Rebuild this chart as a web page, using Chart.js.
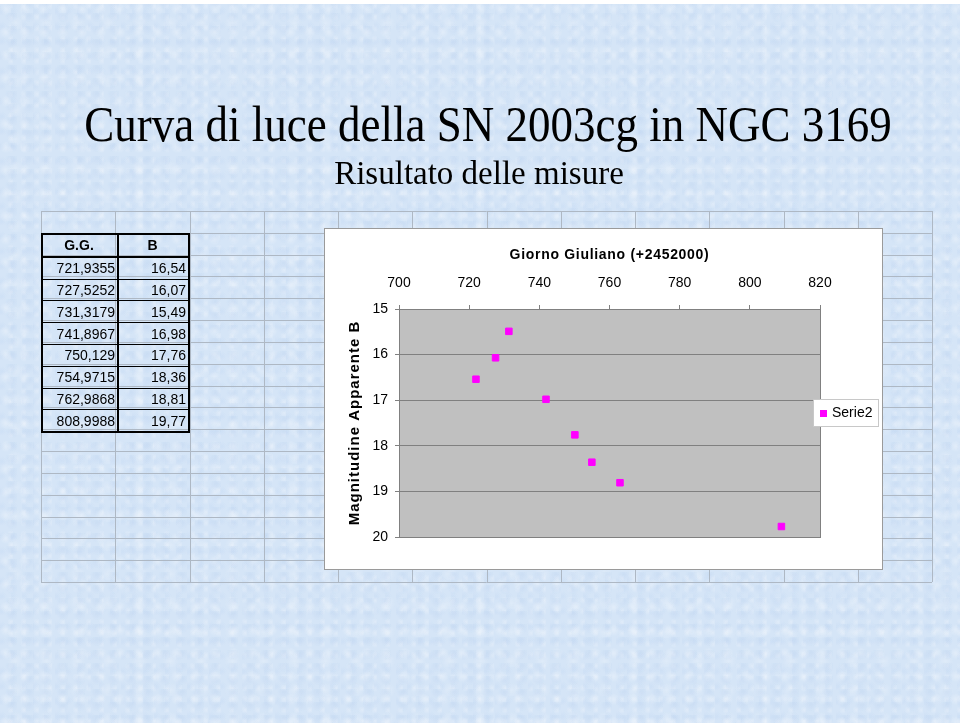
<!DOCTYPE html>
<html>
<head>
<meta charset="utf-8">
<script src="https://cdn.jsdelivr.net/npm/chart.js@4.4.1/dist/chart.umd.min.js"></script>
<style>
  html, body { margin: 0; padding: 0; }
  body {
    width: 960px; height: 723px; position: relative; overflow: hidden;
    background-color: #d5e5f7;
    background-image:
      radial-gradient(circle at 30% 40%, rgba(255,255,255,0.30) 0, rgba(255,255,255,0) 6px),
      radial-gradient(circle at 70% 20%, rgba(185,208,238,0.35) 0, rgba(185,208,238,0) 7px),
      radial-gradient(circle at 50% 80%, rgba(255,255,255,0.22) 0, rgba(255,255,255,0) 8px),
      radial-gradient(circle at 15% 75%, rgba(195,216,243,0.35) 0, rgba(195,216,243,0) 5px),
      radial-gradient(circle at 85% 55%, rgba(255,255,255,0.25) 0, rgba(255,255,255,0) 4px);
    background-size: 19px 23px, 17px 13px, 31px 29px, 11px 15px, 13px 11px;
  }
  #topstrip { position: absolute; left: 0; top: 0; width: 960px; height: 4px; background: #fff; }
  .title {
    position: absolute; white-space: nowrap; color: #000;
    font-family: "Times New Roman", "Liberation Serif", serif;
    transform: translateX(-50%);
  }
  #t1 { left: 488px; top: 104px; font-size: 45px; line-height: 45px; transform: translateX(-50%) scaleY(1.12); transform-origin: 50% 38px; }
  #t2 { left: 479px; top: 157px; font-size: 33px; line-height: 33px; }
  #sheet { position: absolute; left: 0; top: 0; }
  #data {
    position: absolute; left: 41px; top: 233px; width: 149px;
    border-collapse: collapse; border: 2px solid #000;
    font-family: Arial, "Liberation Sans", sans-serif; font-size: 14px;
  }
  #data td, #data th { border: 1px solid #000; height: 20.8px; padding: 0 2px 0 0; line-height: 14px; }
  #data th { text-align: center; font-weight: bold; border-bottom: 2px solid #000; }
  #data td { text-align: right; }
  #data td:first-child, #data th:first-child { border-right: 2px solid #000; width: 72px; }
  #box {
    position: absolute; left: 324px; top: 228px; width: 557px; height: 340px;
    background: #fff; border: 1px solid #9a9a9a;
  }
  #chart { display: block; }
</style>
</head>
<body>
<div id="topstrip"></div>
<canvas id="sheet" width="960" height="723"></canvas>
<div class="title" id="t1">Curva di luce della SN 2003cg in NGC 3169</div>
<div class="title" id="t2">Risultato delle misure</div>
<table id="data"></table>
<div id="box"><canvas id="chart" width="557" height="340"></canvas></div>
<script>
// misure: giorno giuliano (+2452000) e magnitudine B
var giorni = [721.9355, 727.5252, 731.3179, 741.8967, 750.129, 754.9715, 762.9868, 808.9988];
var magB = [16.54, 16.07, 15.49, 16.98, 17.76, 18.36, 18.81, 19.77];
var headers = ['G.G.', 'B'];
var serieName = 'Serie2';
var xTicks = [700, 720, 740, 760, 780, 800, 820];
var yTicks = [15, 16, 17, 18, 19, 20];

// griglia del foglio di calcolo
var sh = document.getElementById('sheet').getContext('2d');
sh.strokeStyle = '#aeb8c4';
sh.lineWidth = 1;
var gx0 = 41, gy0 = 211, gx1 = 932, gy1 = 582;
for (var c = 0; c <= 12; c++) {
    var x = Math.round(gx0 + c * (gx1 - gx0) / 12) + 0.5;
    sh.beginPath(); sh.moveTo(x, gy0); sh.lineTo(x, gy1); sh.stroke();
}
for (var r = 0; r <= 17; r++) {
    var y = Math.round(gy0 + r * (gy1 - gy0) / 17) + 0.5;
    sh.beginPath(); sh.moveTo(gx0, y); sh.lineTo(gx1, y); sh.stroke();
}

// tabella
function virgola(v) { return String(v).replace('.', ','); }
var tbl = document.getElementById('data');
var html = '<tr><th>' + headers[0] + '</th><th>' + headers[1] + '</th></tr>';
for (var i = 0; i < giorni.length; i++) {
    html += '<tr><td>' + virgola(giorni[i]) + '</td><td>' + virgola(magB[i]) + '</td></tr>';
}
tbl.innerHTML = html;

var points = giorni.map(function (g, i) { return {x: g, y: magB[i]}; });

function spaced(px) {
    return function (scale) {
        if (!scale._spaced) {
            var orig = scale.drawTitle;
            scale.drawTitle = function () {
                this.ctx.save();
                this.ctx.letterSpacing = px;
                orig.apply(this, arguments);
                this.ctx.restore();
            };
            scale._spaced = true;
        }
    };
}

var plotBg = {
    id: 'plotBg',
    beforeDraw: function (chart) {
        var a = chart.chartArea, ctx = chart.ctx;
        ctx.save();
        ctx.fillStyle = '#c0c0c0';
        ctx.fillRect(a.left, a.top, a.right - a.left, a.bottom - a.top);
        ctx.restore();
    },
    beforeDatasetsDraw: function (chart) {
        var a = chart.chartArea, ctx = chart.ctx;
        ctx.save();
        ctx.strokeStyle = '#808080';
        ctx.lineWidth = 1;
        ctx.strokeRect(Math.round(a.left) + 0.5, Math.round(a.top) + 0.5,
            Math.round(a.right - a.left), Math.round(a.bottom - a.top));
        ctx.restore();
    }
};

var legendBox = {
    id: 'legendBox',
    afterDraw: function (chart) {
        var ctx = chart.ctx, ds = chart.data.datasets[0];
        ctx.save();
        ctx.fillStyle = '#fff';
        ctx.fillRect(488, 170, 65, 27);
        ctx.strokeStyle = '#c8c8c8';
        ctx.strokeRect(488.5, 170.5, 65, 27);
        ctx.fillStyle = ds.backgroundColor;
        ctx.fillRect(495, 181, 7, 7);
        ctx.fillStyle = '#000';
        ctx.font = '14px Arial, "Liberation Sans", sans-serif';
        ctx.textBaseline = 'middle';
        ctx.fillText(ds.label, 507, 184.5);
        ctx.restore();
    }
};

var config = {
    type: 'scatter',
    data: {
        datasets: [{
            label: serieName,
            data: points,
            backgroundColor: '#ff00ff',
            borderColor: '#ff00ff',
            borderWidth: 1,
            pointStyle: 'rect',
            pointRadius: 4.6,
            pointHoverRadius: 4.6,
            showLine: false
        }]
    },
    options: {
        responsive: false,
        animation: false,
        devicePixelRatio: 1,
        layout: { padding: { left: 0, top: 0, right: 62, bottom: 32 } },
        plugins: { legend: { display: false }, tooltip: { enabled: false } },
        scales: {
            x: {
                type: 'linear',
                position: 'top',
                min: xTicks[0],
                max: xTicks[xTicks.length - 1],
                afterBuildTicks: function (s) { s.ticks = xTicks.map(function (v) { return {value: v}; }); },
                afterFit: function (s) { s.height = 80; spaced('0.7px')(s); },
                grid: { drawOnChartArea: false, drawTicks: true, tickLength: 4, color: '#808080' },
                border: { color: '#808080' },
                ticks: { padding: 13.6, color: '#000', font: { family: 'Arial, "Liberation Sans", sans-serif', size: 14 } },
                title: {
                    display: true,
                    text: 'Giorno Giuliano (+2452000)',
                    color: '#000',
                    padding: { top: 17.6, bottom: 0 },
                    font: { family: 'Arial, "Liberation Sans", sans-serif', size: 14, weight: 'bold' }
                }
            },
            y: {
                type: 'linear',
                reverse: true,
                min: yTicks[0],
                max: yTicks[yTicks.length - 1],
                afterBuildTicks: function (s) { s.ticks = yTicks.map(function (v) { return {value: v}; }); },
                afterFit: function (s) { s.width = 74; spaced('1px')(s); },
                grid: { color: '#808080', tickLength: 4 },
                border: { color: '#808080' },
                ticks: { padding: 7, color: '#000', font: { family: 'Arial, "Liberation Sans", sans-serif', size: 14 } },
                title: {
                    display: true,
                    text: 'Magnitudine Apparente B',
                    color: '#000',
                    padding: { top: 21, bottom: 0 },
                    font: { family: 'Arial, "Liberation Sans", sans-serif', size: 15, weight: 'bold' }
                }
            }
        }
    },
    plugins: [plotBg, legendBox]
};

var chartCtx = document.getElementById('chart').getContext('2d');
new Chart(chartCtx, config);
</script>
</body>
</html>
